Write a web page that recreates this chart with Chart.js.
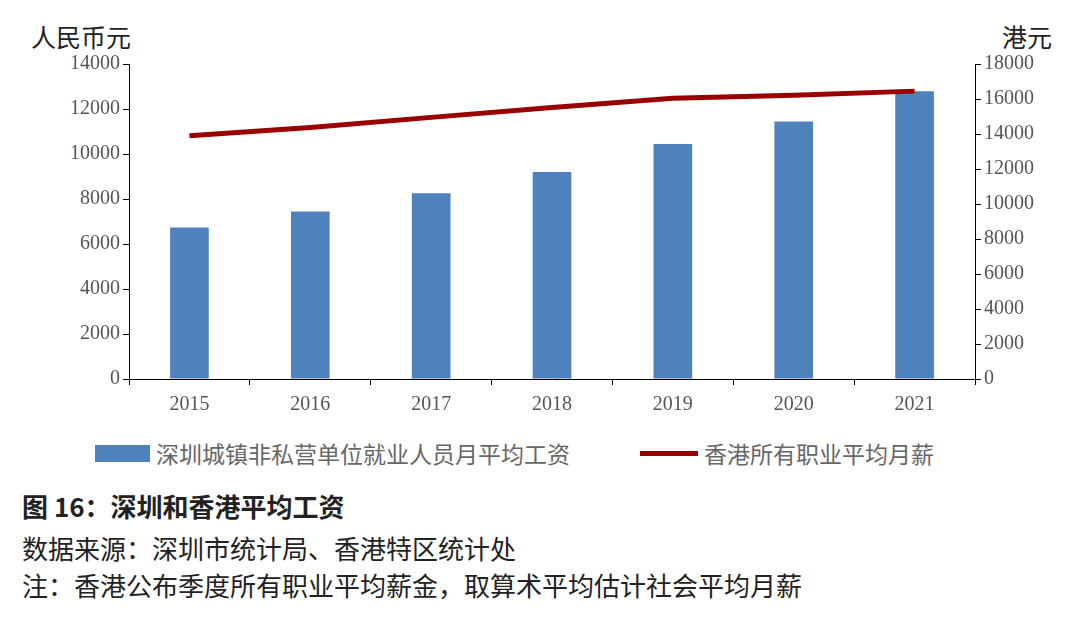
<!DOCTYPE html>
<html><head><meta charset="utf-8">
<script src="https://cdn.jsdelivr.net/npm/chart.js@4"></script>
<style>
body{margin:0;width:1080px;height:617px;background:#fff;font-family:"Noto Sans CJK SC";position:relative;overflow:hidden}
.t{position:absolute;color:#222;white-space:nowrap}
#wrap{position:absolute;left:0;top:0;width:1080px;height:425px}
.lg{position:absolute;top:436px;font-size:23px;color:#666;display:flex;align-items:center}
</style></head><body>
<div class="t" style="left:31px;top:18px;font-size:25px">人民币元</div>
<div class="t" style="left:1002px;top:18px;font-size:25px">港元</div>
<div id="wrap"><canvas id="c"></canvas></div>
<div class="lg" style="left:95px"><span style="display:inline-block;width:55px;height:17px;background:#4f81bd;margin-right:6px"></span>深圳城镇非私营单位就业人员月平均工资</div>
<div class="lg" style="left:640px"><span style="display:inline-block;width:58px;height:5px;background:#9b0000;margin-right:6px"></span>香港所有职业平均月薪</div>
<div class="t" style="left:22px;top:487px;font-size:26px;font-weight:bold">图 16：深圳和香港平均工资</div>
<div class="t" style="left:22px;top:529px;font-size:26px">数据来源：深圳市统计局、香港特区统计处</div>
<div class="t" style="left:22px;top:566px;font-size:26px">注：香港公布季度所有职业平均薪金，取算术平均估计社会平均月薪</div>
<script>
const years = ['2015','2016','2017','2018','2019','2020','2021'];
const shenzhenWage = [6730, 7450, 8260, 9200, 10450, 11440, 12790];
const hongkongWage = [13900, 14370, 14950, 15520, 16040, 16210, 16450];

const tickFont = {family: 'Liberation Serif', size: 20};
const plain = v => String(v);
new Chart(document.getElementById('c'), {
  data: {
    labels: years,
    datasets: [
      {type: 'line', data: hongkongWage, yAxisID: 'y1', borderColor: '#9b0000', borderWidth: 5, pointRadius: 0, tension: 0},
      {type: 'bar', data: shenzhenWage, yAxisID: 'y', backgroundColor: '#4f81bd', categoryPercentage: 1, barPercentage: 0.32}
    ]
  },
  options: {
    responsive: true, maintainAspectRatio: false, animation: false,
    layout: {padding: {top: 64, left: 67, right: 43, bottom: 0}},
    plugins: {legend: {display: false}, tooltip: {enabled: false}},
    scales: {
      x: {grid: {display: true, drawOnChartArea: false, offset: true, color: '#000', tickLength: 6},
          border: {color: '#000'}, ticks: {font: tickFont, color: '#555', padding: 8}},
      y: {min: 0, max: 14000, ticks: {stepSize: 2000, font: tickFont, color: '#555', callback: plain},
          grid: {drawOnChartArea: false, color: '#000', tickLength: 6}, border: {color: '#000'}},
      y1: {position: 'right', min: 0, max: 18000, ticks: {stepSize: 2000, font: tickFont, color: '#555', callback: plain},
          grid: {drawOnChartArea: false, color: '#000', tickLength: 6}, border: {color: '#000'}}
    }
  }
});
</script>
</body></html>
